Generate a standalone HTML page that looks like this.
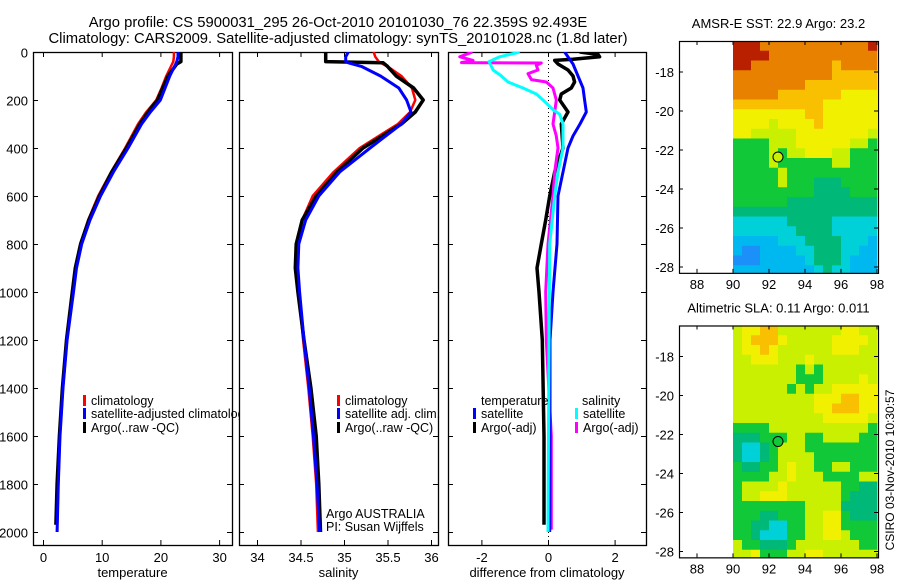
<!DOCTYPE html>
<html><head><meta charset="utf-8"><style>
body{margin:0;background:#fff}
svg{display:block;font-family:"Liberation Sans",sans-serif}
</style></head><body>
<svg id="fig" width="900" height="580" xmlns="http://www.w3.org/2000/svg">
<text x="338" y="27" text-anchor="middle" font-size="14.8">Argo profile: CS 5900031_295 26-Oct-2010 20101030_76 22.359S 92.493E</text>
<text x="338" y="43" text-anchor="middle" font-size="14.8">Climatology: CARS2009. Satellite-adjusted climatology: synTS_20101028.nc (1.8d later)</text>
<text transform="translate(894,470) rotate(-90)" text-anchor="middle" font-size="12">CSIRO 03-Nov-2010 10:30:57</text>
<g id="g"></g>
</svg>
<script>
// ---- Temperature panel data ----
const tDepthClim = [0,20,40,50,100,150,200,250,300,400,500,600,700,800,900,1000,1200,1400,1600,1800,2000];
const tClim = [22.3,22.3,22.2,22.0,21.0,20.2,19.3,17.6,16.2,14.0,11.6,9.4,7.7,6.4,5.6,5.1,4.1,3.4,2.9,2.6,2.4];
const tSat = [23.0,23.0,22.8,22.6,21.6,20.8,20.0,18.3,16.8,14.5,12.0,9.8,8.0,6.6,5.7,5.2,4.1,3.4,2.9,2.6,2.4];
const tDepthArgo = [0,20,40,50,100,150,200,250,300,400,500,600,700,800,900,1000,1200,1400,1600,1800,1970];
const tArgo = [23.5,23.5,23.5,22.8,21.3,20.4,19.5,17.9,16.5,14.2,11.7,9.6,7.8,6.4,5.5,5.0,4.0,3.3,2.8,2.4,2.2];
// ---- Salinity panel data ----
const sDepth = [0,20,40,45,60,100,150,200,250,300,400,500,600,700,800,900,1000,1200,1400,1600,1800,2000];
const sClim = [35.34,35.36,35.4,35.42,35.5,35.66,35.78,35.82,35.76,35.62,35.18,34.88,34.64,34.52,34.47,34.46,34.48,34.53,34.59,34.64,34.68,34.70];
const sSat = [35.05,35.02,35.02,35.05,35.2,35.42,35.63,35.72,35.77,35.66,35.3,34.95,34.71,34.56,34.48,34.47,34.49,34.54,34.6,34.65,34.69,34.72];
const sArgo = [34.79,34.79,34.79,35.45,35.5,35.6,35.8,35.91,35.82,35.66,35.22,34.92,34.68,34.52,34.45,34.44,34.47,34.54,34.62,34.68,34.71,34.73];
// ---- Difference panel data ----
const dTSatDepth = [0,50,100,150,200,250,300,350,400,500,600,800,1000,1200,1600,2000];
const dTSat = [0.5,0.75,0.9,1.05,1.1,1.15,0.96,0.75,0.6,0.45,0.3,0.27,0.15,0.06,0.06,0.05];
const dTArgoDepth = [0,10,20,30,35,50,75,100,125,150,175,200,250,300,400,500,600,700,800,900,1000,1200,1600,1970];
const dTArgo = [0.95,1.5,1.55,0.75,0.2,0.3,0.6,0.75,0.8,0.7,0.4,0.35,0.6,0.4,0.45,0.2,0.05,-0.07,-0.2,-0.33,-0.27,-0.17,-0.12,-0.12];
const dSSatDepth = [0,20,40,75,100,125,150,175,200,240,260,300,400,500,600,800,1200,2000];
const dSSat = [-0.85,-1.45,-1.77,-1.65,-1.4,-1.2,-0.75,-0.35,-0.15,0.15,0.35,0.45,0.45,0.3,0.2,0.05,0.03,0.0];
const dSArgoDepth = [0,20,35,44,46,55,75,90,115,125,150,200,250,300,350,400,500,600,800,1000,1200,1600,1990];
const dSArgo = [-2.27,-2.65,-2.25,-2.6,-0.2,-0.35,-0.3,-0.6,-0.5,-0.05,0.15,0.25,0.2,0.15,0.25,0.3,0.2,0.15,0.0,-0.07,-0.05,0.1,0.1];
// ---- Tick labels ----
const depthTicks = [0,200,400,600,800,1000,1200,1400,1600,1800,2000];
const tempTicks = [0,10,20,30];
const salTicks = [34,34.5,35,35.5,36];
const diffTicks = [-2,0,2];
const lonTicks = [88,90,92,94,96,98];
const latTicks = [-18,-20,-22,-24,-26,-28];
// ---- Map data (0.5 deg cells, rows from north, lon 90..98) ----
const sstGrid = ["9998888888888889","9999888888888888","9988888888878888","8888888888877777","8888888877777777","8888877777776666","7777777777666666","6666666677666666","6666566667666666","6655555666666665","4444555666666554","4444545566655444","4444544444455444","4444454444444444","4444454443334444","4444444443333444","4444443333333333","3333333333333333","2222223333322222","2222222333322222","1111122233332221","1001111223332211","0001111123332111","1111111112322111","1111111112222111"];
const slaGrid = ["5667755555556655","5677765555566665","5667655555566655","5566655565555555","5555555454555555","5555555444555565","5555554545566666","5555555556667766","5555555556677766","5555555555666665","4444555555555554","3334445544555544","3223455544444444","3223455554444444","4334456554455444","4444556555444455","4555565555554433","4556665555554333","4444444455553333","4443344455664333","4433224455664444","4432224455665444","5443334555555544","5564445566555555","5666455555555655"];
const argoLon = 92.5, argoLat = -22.36;

const NS="http://www.w3.org/2000/svg";
const G=document.getElementById('g');
function mk(tag,attrs,parent){const e=document.createElementNS(NS,tag);for(const k in attrs)e.setAttribute(k,attrs[k]);(parent||G).appendChild(e);return e;}
function txt(x,y,s,anchor,size,parent){const t=mk('text',{x:x,y:y,'text-anchor':anchor||'start','font-size':size||12},parent);t.textContent=s;return t;}

const TOP=52,BOT=545;
const yD=d=>TOP+0.24*d;
const panels=[
 {name:'temperature',x0:33,x1:232,fx:v=>43+5.87*v,ticks:tempTicks,title:'temperature',ylabels:true},
 {name:'salinity',x0:239,x1:438,fx:v=>257+87*(v-34),ticks:salTicks,title:'salinity',ylabels:false},
 {name:'difference',x0:448,x1:646,fx:v=>548+33.3*v,ticks:diffTicks,title:'difference from climatology',ylabels:false}
];
panels.forEach(p=>{
  const g=mk('g',{});
  
  
  const cid='clip-'+p.name;
  const cp=mk('clipPath',{id:cid},g);mk('rect',{x:p.x0,y:TOP,width:p.x1-p.x0,height:BOT-TOP},cp);
  p.g=g;p.clip='url(#'+cid+')';
  const f=mk('rect',{x:p.x0+0.5,y:TOP+0.5,width:p.x1-p.x0,height:BOT-TOP,fill:'none',stroke:'#000','stroke-width':1.3},g);
  
  
  depthTicks.forEach(d=>{
    const y=yD(d)+0.5;
    mk('line',{x1:p.x0,x2:p.x0+5,y1:y,y2:y,stroke:'#000'},g);
    mk('line',{x1:p.x1-5,x2:p.x1,y1:y,y2:y,stroke:'#000'},g);
    if(p.ylabels){const t=txt(p.x0-5,y+5,String(d),'end',13,g);
      
      }
  });
  p.ticks.forEach(v=>{
    const x=p.fx(v)+0.5;
    mk('line',{x1:x,x2:x,y1:BOT,y2:BOT-5,stroke:'#000'},g);
    mk('line',{x1:x,x2:x,y1:TOP,y2:TOP+5,stroke:'#000'},g);
    const t=txt(x,BOT+17,String(v),'middle',13,g);
    
    
  });
  const at=txt((p.x0+p.x1)/2,BOT+32,p.title,'middle',13,g);
  
  
});
function series(p,depths,vals,color,w,name){
  const pts=depths.map((d,i)=>p.fx(vals[i]).toFixed(1)+','+yD(d).toFixed(1)).join(' ');
  const l=mk('polyline',{points:pts,fill:'none',stroke:color,'stroke-width':w,'clip-path':p.clip,'stroke-linejoin':'round'},p.g);
  
  
}
const [P1,P2,P3]=panels;
series(P1,tDepthClim,tClim,'#f00',2.5,'temperature-climatology-line');
series(P1,tDepthArgo,tArgo,'#000',3.5,'temperature-argo-line');
series(P1,tDepthClim,tSat,'#00f',3,'temperature-satellite-line');
series(P2,sDepth,sClim,'#f00',2.5,'salinity-climatology-line');
series(P2,sDepth,sArgo,'#000',3.5,'salinity-argo-line');
series(P2,sDepth,sSat,'#00f',3,'salinity-satellite-line');
mk('line',{x1:548.5,x2:548.5,y1:TOP,y2:BOT,stroke:'#000','stroke-dasharray':'1,3'},P3.g);
series(P3,dTArgoDepth,dTArgo,'#000',3.5,'diff-temperature-argo-line');
series(P3,dSArgoDepth,dSArgo,'#f0f',3,'diff-salinity-argo-line');
series(P3,dTSatDepth,dTSat,'#00f',3,'diff-temperature-satellite-line');
series(P3,dSSatDepth,dSSat,'#0ff',3,'diff-salinity-satellite-line');

function legend(g,x,y,color,label,clip){
  const r=mk('rect',{x:x,y:y-10,width:3,height:11,fill:color},g);
  const t=txt(x+8,y,label,'start',12.5,g);
  if(clip)t.setAttribute('clip-path',clip);
  
  
}
const lc=mk('clipPath',{id:'lc'});mk('rect',{x:0,y:0,width:240,height:580},lc);
legend(P1.g,83,405,'#f00','climatology');
legend(P1.g,83,418,'#00f','satellite-adjusted climatology','url(#lc)');
legend(P1.g,83,432,'#000','Argo(..raw -QC)');
legend(P2.g,337,405,'#f00','climatology');
legend(P2.g,337,418,'#00f','satellite adj. clim.');
legend(P2.g,337,432,'#000','Argo(..raw -QC)');
txt(326,518,'Argo AUSTRALIA','start',12.5,P2.g);
txt(326,531,'PI: Susan Wijffels','start',12.5,P2.g);
txt(481,405,'temperature','start',12.5,P3.g);
txt(582,405,'salinity','start',12.5,P3.g);
legend(P3.g,473,418,'#00f','satellite');
legend(P3.g,473,432,'#000','Argo(-adj)');
legend(P3.g,575,418,'#0ff','satellite');
legend(P3.g,575,432,'#f0f','Argo(-adj)');

// ---- Maps ----
const pal=['#1a90f8','#00b8f0','#00d0d8','#00b878','#10c838','#c8f000','#f0f000','#f8c000','#e88000','#b82000'];
function map(name,title,grid,latRef,dotFill){
  const g=mk('g',{});
  
  
  const x0=679,x1=878;
  const fx=lon=>733+18*(lon-90);
  const fy=lat=>latRef+19.5*(-18-lat);
  const yTop=fy(-16.41),yBot=fy(-28.3);
  const cid='clip-'+name;
  const cp=mk('clipPath',{id:cid},g);mk('rect',{x:x0,y:yTop,width:x1-x0,height:yBot-yTop},cp);
  const cg=mk('g',{'clip-path':'url(#'+cid+')'},g);
  grid.forEach((row,r)=>{
    for(let c=0;c<row.length;c++){
      const lon=90+c*0.5, lat=-16.41-r*0.5;
      const cell=mk('rect',{x:fx(lon),y:fy(lat),width:9.3,height:10.1,fill:pal[+row[c]]},cg);
      
      
    }
  });
  const d=mk('circle',{cx:fx(argoLon),cy:fy(argoLat),r:5,fill:dotFill,stroke:'#000','stroke-width':1},g);
  
  
  mk('rect',{x:x0+0.5,y:yTop+0.5,width:x1-x0,height:yBot-yTop,fill:'none',stroke:'#000','stroke-width':1.2},g);
  lonTicks.forEach(v=>{const x=fx(v);
    mk('line',{x1:x,x2:x,y1:yBot,y2:yBot-4,stroke:'#000'},g);
    mk('line',{x1:x,x2:x,y1:yTop,y2:yTop+4,stroke:'#000'},g);
    const t=txt(x,yBot+16,String(v),'middle',13,g);
    
    });
  latTicks.forEach(v=>{const y=fy(v);
    mk('line',{x1:x0,x2:x0+4,y1:y,y2:y,stroke:'#000'},g);
    mk('line',{x1:x1-4,x2:x1,y1:y,y2:y,stroke:'#000'},g);
    const t=txt(x0-5,y+5,String(v),'end',13,g);
    
    });
  const tt=txt((x0+x1)/2,yTop-13,title,'middle',13,g);
  
  
}
map('sst-map','AMSR-E SST: 22.9 Argo: 23.2',sstGrid,72,'#c8f000');
map('sla-map','Altimetric SLA: 0.11 Argo: 0.011',slaGrid,356.5,'#10c838');
</script>
</body></html>
